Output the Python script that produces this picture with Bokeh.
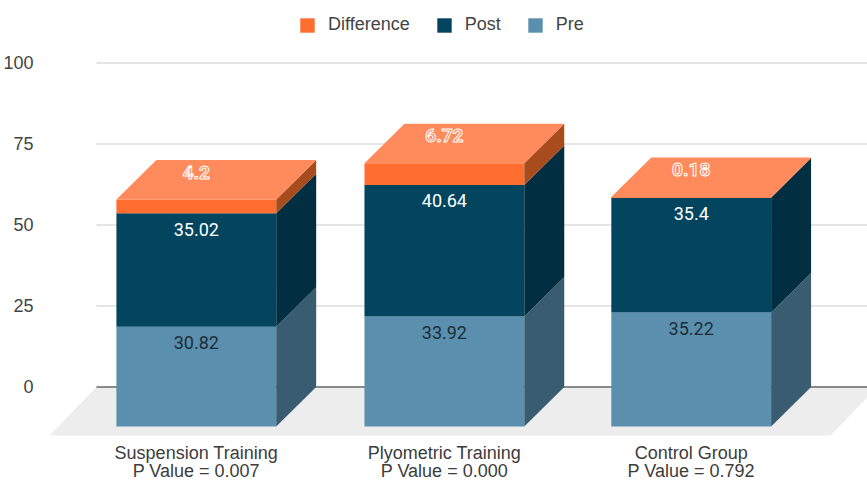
from bokeh.embed import file_html
from bokeh.resources import INLINE
from bokeh.plotting import figure
from bokeh.models import ColumnDataSource, FixedTicker, LinearAxis, Legend, LegendItem, Range1d
from bokeh.core.properties import value

categories = ["Suspension Training", "Plyometric Training", "Control Group"]
p_values = ["P Value = 0.007", "P Value = 0.000", "P Value = 0.792"]
pre = [30.82, 33.92, 35.22]
post = [35.02, 40.64, 35.4]
difference = [4.2, 6.72, 0.18]
y_ticks = [0, 25, 50, 75, 100]

FONT = "Liberation Sans"
DEPTH_Y = 12.19     # depth of the 3D projection, value units
DEPTH_X = 0.1613    # depth of the 3D projection, category units
HALF = 0.3226
centers = [0, 1.0015, 1.998]

p = figure(width=867, height=480, output_backend="svg", toolbar_location=None,
           x_range=Range1d(-0.625, 2.7097), y_range=Range1d(-28.86, 119.29),
           min_border_left=40, min_border_right=0, min_border_top=0, min_border_bottom=0,
           outline_line_color=None, x_axis_location=None, y_axis_location=None)
p.grid.visible = False

# floor
p.patch([-0.5927, 2.5605, 2.75, -0.4032], [-14.97, -14.97, 0, 0], fill_color="#ededed", line_color=None)
# grid lines
p.segment(x0=[-0.4032] * 4, x1=[2.7097] * 4, y0=y_ticks[1:], y1=y_ticks[1:], line_color="#dcdcdc", line_width=1.6)
p.segment(x0=[-0.4032], x1=[2.7097], y0=[0], y1=[0], line_color="#666666", line_width=1.6)

series = [("Pre", pre, "#5a8fae", "#3a5c70"),
          ("Post", post, "#03455f", "#012e40"),
          ("Difference", difference, "#ff6d2f", "#a84c1e")]
bottoms = [0, 0, 0]
front = {}
for name, vals, col, side in series:
    tops = [b + v for b, v in zip(bottoms, vals)]
    src = ColumnDataSource(dict(left=[c - HALF for c in centers], right=[c + HALF for c in centers],
                                top=[t - DEPTH_Y for t in tops], bottom=[b - DEPTH_Y for b in bottoms]))
    front[name] = p.quad(left="left", right="right", top="top", bottom="bottom", source=src,
                         fill_color=col, line_color=None)
    xs = [[c + HALF, c + HALF + DEPTH_X, c + HALF + DEPTH_X, c + HALF] for c in centers]
    ys = [[b - DEPTH_Y, b, t, t - DEPTH_Y] for b, t in zip(bottoms, tops)]
    p.patches(xs, ys, fill_color=side, line_color=None)
    bottoms = tops

# top face
xs = [[c - HALF, c + HALF, c + HALF + DEPTH_X, c - HALF + DEPTH_X] for c in centers]
ys = [[t - DEPTH_Y, t - DEPTH_Y, t, t] for t in bottoms]
p.patches(xs, ys, fill_color="#ff8a5b", line_color=None)

# data labels
post_top = [a + b for a, b in zip(pre, post)]
p.text(centers, [t - DEPTH_Y for t in pre], text=[str(v) for v in pre], y_offset=16,
       text_align="center", text_baseline="middle", text_color="#1d2d38",
       text_font=value("Roboto"), text_font_size="18px")
p.text(centers, [t - DEPTH_Y for t in post_top], text=[str(v) for v in post], y_offset=16,
       text_align="center", text_baseline="middle", text_color="#ffffff",
       text_font=value("Roboto"), text_font_size="18px")
p.text(centers, bottoms, text=[str(v) for v in difference], y_offset=12,
       text_align="center", text_baseline="middle", text_color="#ff8a5b",
       text_outline_color="#ffffff",
       text_font=value("Roboto"), text_font_size="19px", text_font_style="bold")

# category labels, two tightly spaced lines
for labels, line_offset in ((categories, 66.5), (p_values, 84.5)):
    p.text(centers, [0] * 3, text=labels, y_offset=line_offset,
           text_align="center", text_baseline="middle", text_color="#3c3c3c",
           text_font=value(FONT), text_font_size="18px")

# value axis
yaxis = LinearAxis(ticker=FixedTicker(ticks=y_ticks), axis_line_color=None, major_tick_line_color=None,
                   minor_tick_line_color=None, major_label_standoff=2,
                   major_label_text_font=FONT, major_label_text_font_size="18px",
                   major_label_text_color="#444444")
p.add_layout(yaxis, "left")

legend = Legend(items=[LegendItem(label="Difference", renderers=[front["Difference"]]),
                       LegendItem(label="Post", renderers=[front["Post"]]),
                       LegendItem(label="Pre", renderers=[front["Pre"]])],
                orientation="horizontal", location=(257, 445), padding=0, margin=0, spacing=25,
                glyph_width=18, glyph_height=18, label_standoff=12, border_line_color=None,
                background_fill_alpha=0, label_text_font=FONT, label_text_font_size="18px",
                label_text_color="#444444")
p.add_layout(legend, "center")

open("out.html", "w").write(file_html(p, INLINE))
